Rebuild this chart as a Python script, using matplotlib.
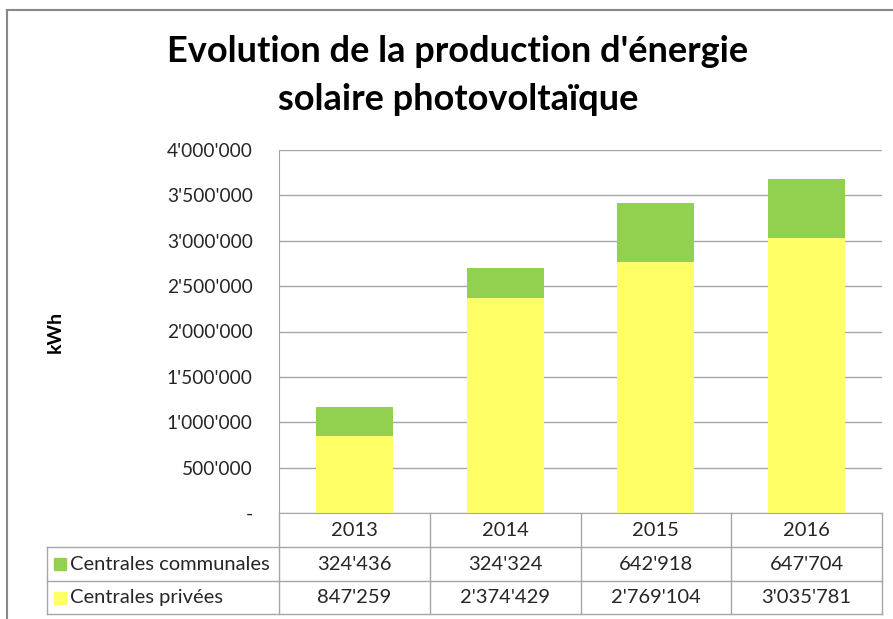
import matplotlib.pyplot as plt
from matplotlib.patches import Rectangle
from matplotlib.lines import Line2D
from matplotlib.ticker import FuncFormatter

# donnees
annees = ["2013", "2014", "2015", "2016"]
communales = [324436, 324324, 642918, 647704]
privees = [847259, 2374429, 2769104, 3035781]
series_noms = ["Centrales communales", "Centrales privées"]
couleurs = ["#92D050", "#FFFF66"]

plt.rcParams['font.family'] = ['Lato', 'DejaVu Sans']

W, H = 893, 619
fig = plt.figure(figsize=(W / 100, H / 100), dpi=100)

def fx(px):
    return px / W

def fy(py):
    return 1 - py / H

def fmt(v):
    return f"{int(v):,}".replace(",", "'")

# cadre
fig.add_artist(Line2D([fx(7), fx(7)], [fy(10), fy(625)], color="#888888", lw=1.5))
fig.add_artist(Line2D([fx(7), fx(900)], [fy(10), fy(10)], color="#888888", lw=1.5))

# titre
fig.text(fx(458), fy(52), "Evolution de la production d'énergie", ha="center", va="center",
         fontsize=26, fontweight="bold")
fig.text(fx(458), fy(100), "solaire photovoltaïque", ha="center", va="center",
         fontsize=26, fontweight="bold")

# graphique
x0, x1, ytop, ybot = 279, 882, 150, 513
ax = fig.add_axes([fx(x0), fy(ybot), fx(x1 - x0), (ybot - ytop) / H])
pos = range(len(annees))
ax.bar(pos, privees, width=0.51, color=couleurs[1], zorder=2)
ax.bar(pos, communales, width=0.51, bottom=privees, color=couleurs[0], zorder=2)
ax.set_xlim(-0.5, len(annees) - 0.5)
ax.set_ylim(0, 4000000)
ax.set_yticks(range(0, 4000001, 500000))
ax.yaxis.set_major_formatter(FuncFormatter(lambda v, p: "-" if v == 0 else fmt(v)))
ax.tick_params(axis="y", length=0, labelsize=13.8, pad=19, colors="#262626")
ax.set_xticks([])
ax.grid(axis="y", color="#A6A6A6", lw=1, zorder=0)
for s in ["top", "right"]:
    ax.spines[s].set_visible(False)
ax.spines["left"].set_color("#A6A6A6")
ax.spines["bottom"].set_color("#A6A6A6")
fig.text(fx(55), fy(332), "kWh", rotation=90, ha="center", va="center", fontsize=14,
         fontweight="bold")

# tableau
tl = 47
rows = [513, 547, 581, 614]
colw = (x1 - x0) / len(annees)
lc = "#A6A6A6"
for r in rows[1:]:
    fig.add_artist(Line2D([fx(tl), fx(x1)], [fy(r)] * 2, color=lc, lw=1))
fig.add_artist(Line2D([fx(tl), fx(tl)], [fy(rows[1]), fy(rows[3])], color=lc, lw=1))
for i in range(len(annees) + 1):
    xx = x0 + i * colw
    fig.add_artist(Line2D([fx(xx), fx(xx)], [fy(rows[0]), fy(rows[3])], color=lc, lw=1))
for i, a in enumerate(annees):
    fig.text(fx(x0 + (i + 0.5) * colw), fy((rows[0] + rows[1]) / 2), a, ha="center",
             va="center", fontsize=14.5, color="#262626")
for j, (nom, vals) in enumerate(zip(series_noms, [communales, privees])):
    yc = (rows[j + 1] + rows[j + 2]) / 2
    fig.add_artist(Rectangle((fx(54), fy(yc + 6)), fx(12), 12 / H, color=couleurs[j]))
    fig.text(fx(70), fy(yc), nom, ha="left", va="center", fontsize=14.5, color="#262626")
    for i, v in enumerate(vals):
        fig.text(fx(x0 + (i + 0.5) * colw), fy(yc), fmt(v), ha="center", va="center",
                 fontsize=14.5, color="#262626")

fig.savefig("out.png", dpi=100)
